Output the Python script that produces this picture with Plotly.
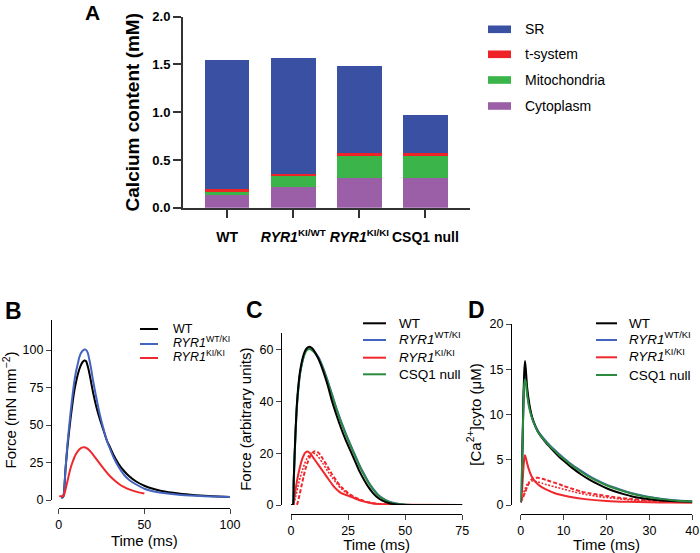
import plotly.graph_objects as go

W, H = 700, 553
def fx(p):
    return p / W
def fy(p):
    return 1 - p / H

FONT = "Arial, Liberation Sans, sans-serif"
BLACK = "#000000"
BLUE = "#4363bf"
RED = "#f0282d"
GREEN = "#2a8a3e"

# ---------------- Panel A data ----------------
categories = ["WT", "<i>RYR1</i><sup>KI/WT</sup>", "<i>RYR1</i><sup>KI/KI</sup>", "CSQ1 null"]
cytoplasm = [0.133, 0.213, 0.314, 0.314]
mitochondria = [0.042, 0.119, 0.231, 0.231]
t_system = [0.020, 0.024, 0.024, 0.024]
sr = [1.351, 1.215, 0.914, 0.405]
a_names = ["SR", "t-system", "Mitochondria", "Cytoplasm"]
a_colors = {"SR": "#3a51a3", "t-system": "#ee2327", "Mitochondria": "#3bb54a", "Cytoplasm": "#9b5fa8"}

# ---------------- Panel B data (force, mN mm-2) ----------------
b_wt_t = [1.5, 2.5, 3, 4, 5, 6, 7, 8, 9, 10, 11, 12, 13, 14, 15, 16, 17, 18, 19, 20, 22, 24, 26, 28, 30, 32, 35, 38, 41, 45, 50, 55, 60, 70, 80, 90, 100]
b_wt_f = [1.5, 2, 4, 21, 34, 45, 55, 64, 72, 78, 83, 87, 90, 92, 93, 92.5, 89, 84, 78, 72, 62, 54, 47, 40, 35, 30, 24, 19.5, 16, 12.5, 9.5, 7.5, 6, 4.3, 3.2, 2.5, 2]
b_wtki_t = [1.5, 2.5, 3, 4, 5, 6, 7, 8, 9, 10, 11, 12, 13, 14, 15, 16, 17, 18, 19, 20, 22, 24, 26, 28, 30, 32, 35, 38, 41, 45, 50, 55, 60, 70, 80, 90, 100]
b_wtki_f = [1.5, 2, 4, 21, 36, 48, 59, 69, 78, 85, 90, 95, 98, 99.5, 100.3, 100, 98, 93, 87, 80, 68, 57, 48, 40, 34, 28.5, 22, 17, 13.5, 10.5, 7.5, 5.8, 4.8, 3.5, 2.8, 2.3, 2]
b_kiki_t = [0.3, 2, 3, 4, 5, 6, 7, 8, 9, 10, 11, 12, 13, 14, 15, 16, 17, 18, 19, 20, 22, 24, 26, 28, 30, 33, 36, 40, 45, 50]
b_kiki_f = [2.5, 2.5, 3, 7, 12, 17, 21.5, 25, 28, 30.5, 32.3, 33.7, 34.6, 35.1, 35.2, 34.8, 34.1, 33, 31.7, 30.3, 27.3, 24.2, 21.2, 18.4, 15.8, 12.6, 10, 7.6, 5.6, 4.3]

# ---------------- Panel C data (force, arbitrary units) ----------------
c_t = [0, 0.8, 1.2, 1.6, 2, 2.5, 3, 3.5, 4, 5, 6, 7, 8, 9, 10, 12, 14, 16, 18, 20, 22, 24, 26, 28, 30, 32, 34, 36, 38, 40, 43, 46, 50, 60, 75]
c_wt = [0, 0, 10, 20, 29, 38, 44, 48.5, 52, 56.5, 59.3, 60.7, 61.2, 60.8, 59.8, 56.5, 52, 46.5, 40, 34.5, 29.5, 25, 21, 17, 13, 9.7, 6.8, 4.5, 2.8, 1.7, 0.7, 0.2, 0, 0, 0]
c_wtki = [0, 0, 9, 19, 28, 37, 43, 47.5, 51, 55.5, 58.6, 60.1, 60.5, 60.2, 59.5, 57.2, 53.2, 48.2, 42.7, 37.2, 32.2, 27.6, 23.4, 19.4, 15.4, 12, 8.8, 6.2, 4.1, 2.7, 1.3, 0.6, 0.1, 0, 0]
c_csq = [0, 0, 9, 19, 28, 37, 43, 47.5, 51, 55.5, 58.5, 59.9, 60.3, 60, 59.2, 56.8, 52.8, 47.8, 42.3, 36.8, 31.8, 27.2, 23, 19, 15, 11.6, 8.5, 5.9, 3.9, 2.5, 1.2, 0.5, 0.1, 0, 0]
c_kiki_solid_t = [0, 1, 1.5, 2, 3, 4, 5, 6, 7, 8, 9, 10, 12, 14, 16, 18, 20, 22, 25, 28, 32, 36, 40, 50, 75]
c_kiki_solid = [0, 0, 3, 6, 11, 15, 18, 20, 20.7, 20.3, 19.3, 18, 15.5, 13, 10.5, 8, 6, 4.6, 3.6, 2.5, 1.3, 0.6, 0.3, 0.05, 0]
c_kiki_dot_t = [0, 1, 2, 3, 4, 5, 6, 7, 8, 9, 10, 11, 12, 14, 16, 18, 20, 22, 25, 28, 32, 36, 40, 50, 75]
c_kiki_dot = [0, 0, 3, 7, 10.5, 13.5, 16, 18, 19.3, 20, 20, 19.5, 18.6, 16, 13.2, 10.6, 8.3, 6.3, 4.2, 2.7, 1.4, 0.7, 0.3, 0.05, 0]
c_kiki_dash_t = [0, 2.5, 3.5, 4.5, 5.5, 6.5, 7.5, 8.5, 9.5, 10.5, 11.5, 12.5, 14, 16, 18, 20, 22, 25, 28, 32, 36, 40, 50, 75]
c_kiki_dash = [0, 0, 3, 7, 11, 14.5, 17, 19, 20.3, 20.8, 20.6, 19.8, 17.8, 14.8, 11.8, 9.2, 7, 4.6, 2.9, 1.5, 0.7, 0.3, 0.05, 0]

# ---------------- Panel D data ([Ca2+]cyto, uM) ----------------
d_t = [0, 0.3, 0.6, 0.8, 1.0, 1.2, 1.5, 2, 2.5, 3, 4, 5, 6, 7, 8, 9, 10, 12, 14, 16, 18, 20, 22, 24, 26, 28, 30, 33, 36, 40]
d_wt = [0.3, 4, 11, 14.5, 15.9, 15, 13, 11.2, 10, 9.2, 8.1, 7.4, 6.8, 6.3, 5.8, 5.3, 4.9, 4.1, 3.4, 2.8, 2.3, 1.85, 1.5, 1.2, 0.95, 0.78, 0.64, 0.5, 0.42, 0.35]
d_wtki = [0.3, 4, 10.5, 13.5, 14.4, 14, 12.5, 10.9, 9.9, 9.2, 8.2, 7.55, 7.0, 6.5, 6.05, 5.6, 5.2, 4.45, 3.8, 3.2, 2.7, 2.25, 1.9, 1.58, 1.3, 1.07, 0.88, 0.67, 0.52, 0.4]
d_csq = [0.3, 4, 10.2, 13.2, 13.9, 13.6, 12.2, 10.7, 9.8, 9.1, 8.1, 7.45, 6.9, 6.4, 5.95, 5.5, 5.1, 4.35, 3.7, 3.1, 2.6, 2.18, 1.83, 1.52, 1.25, 1.03, 0.85, 0.65, 0.5, 0.39]
d_kiki_solid_t = [0, 0.3, 0.6, 0.8, 1.0, 1.2, 1.5, 2, 2.5, 3, 4, 5, 6, 8, 10, 12, 15, 20, 25, 30, 35, 40]
d_kiki_solid = [0.3, 1.5, 3.8, 5.0, 5.5, 5.2, 4.6, 3.8, 3.2, 2.8, 2.3, 1.95, 1.7, 1.3, 1.05, 0.85, 0.65, 0.45, 0.35, 0.3, 0.27, 0.25]
d_kiki_dash_t = [0, 0.5, 1, 1.5, 2, 2.5, 3, 3.5, 4, 5, 6, 7, 8, 9, 10, 12, 14, 16, 18, 20, 23, 26, 30, 35, 40]
d_kiki_dash = [0.3, 0.8, 1.4, 2.0, 2.5, 2.8, 2.95, 3.0, 3.0, 2.9, 2.75, 2.6, 2.45, 2.3, 2.1, 1.8, 1.5, 1.3, 1.15, 1.0, 0.8, 0.65, 0.5, 0.4, 0.35]
d_kiki_dot_t = [0, 0.5, 1, 1.5, 2, 2.5, 3, 4, 5, 6, 8, 10, 12, 14, 16, 18, 20, 23, 26, 30, 35, 40]
d_kiki_dot = [0.3, 1.0, 1.8, 2.3, 2.55, 2.65, 2.65, 2.55, 2.4, 2.25, 2.0, 1.75, 1.5, 1.28, 1.1, 0.95, 0.82, 0.68, 0.55, 0.45, 0.38, 0.33]

legend_labels = ["WT", "<i>RYR1</i><sup>WT/KI</sup>", "<i>RYR1</i><sup>KI/KI</sup>", "CSQ1 null"]
legend_colors = [BLACK, BLUE, RED, GREEN]

fig = go.Figure()

# Panel A stacked bars (bottom to top)
for name, vals in [("Cytoplasm", cytoplasm), ("Mitochondria", mitochondria), ("t-system", t_system), ("SR", sr)]:
    fig.add_trace(go.Bar(x=categories, y=vals, name=name, marker_color=a_colors[name],
                         marker_line_width=0, width=0.675, xaxis="x", yaxis="y", showlegend=False))

def line(x, y, color, ax, dash="solid", width=2):
    fig.add_trace(go.Scatter(x=x, y=y, mode="lines", line=dict(color=color, width=width, dash=dash, shape="spline", smoothing=0.5),
                             xaxis="x" + ax, yaxis="y" + ax, showlegend=False, cliponaxis=False))

# Panel B
line(b_wt_t, b_wt_f, BLACK, "2")
line(b_wtki_t, b_wtki_f, BLUE, "2")
line(b_kiki_t, b_kiki_f, RED, "2")
# Panel C
line(c_kiki_dash_t, c_kiki_dash, RED, "3", dash="4px,2px")
line(c_kiki_dot_t, c_kiki_dot, RED, "3", dash="2px,1.5px", width=1.6)
line(c_kiki_solid_t, c_kiki_solid, RED, "3")
line(c_t, c_wtki, BLUE, "3")
line(c_t, c_csq, GREEN, "3")
line(c_t, c_wt, BLACK, "3")
# Panel D
line(d_kiki_dash_t, d_kiki_dash, RED, "4", dash="4px,2px")
line(d_kiki_dot_t, d_kiki_dot, RED, "4", dash="2px,1.5px", width=1.6)
line(d_kiki_solid_t, d_kiki_solid, RED, "4")
line(d_t, d_wtki, BLUE, "4")
line(d_t, d_wt, BLACK, "4")
line(d_t, d_csq, GREEN, "4")

tf = dict(family=FONT, size=12.5, color="black")
ttl = dict(family=FONT, size=15, color="black")

def yax(y0p, y1p, r0, r1, posx, ticks, title, standoff):
    return dict(domain=[fy(y0p), fy(y1p)], range=[r0, r1], anchor="free", position=fx(posx),
                tickvals=ticks, ticks="outside", ticklen=5, tickwidth=1.3, showline=True, linecolor="black",
                linewidth=1.3, showgrid=False, zeroline=False, tickfont=tf, automargin=False,
                title=dict(text=title, font=ttl, standoff=standoff))

def xax(x0p, x1p, r0, r1, posy, ticks, standoff):
    return dict(domain=[fx(x0p), fx(x1p)], range=[r0, r1], anchor="free", position=fy(posy),
                tickvals=ticks, ticks="outside", ticklen=5, tickwidth=1.3, showline=True, linecolor="black",
                linewidth=1.3, showgrid=False, zeroline=False, tickfont=tf, automargin=False,
                title=dict(text="Time (ms)", font=ttl, standoff=standoff))

fig.update_layout(
    width=W, height=H, margin=dict(l=0, r=0, t=0, b=0),
    paper_bgcolor="white", plot_bgcolor="white", barmode="stack", bargap=0.3,
    font=dict(family=FONT, color="black"),
    xaxis=dict(domain=[fx(183), fx(470)], range=[-0.667, 3.674], anchor="y", type="category", tickangle=0,
               ticks="outside", ticklen=8, tickwidth=2, tickcolor="#333", showline=True, linecolor="#333", linewidth=2,
               showgrid=False, tickfont=dict(family=FONT, size=14, color="black", weight="bold"),
               ticklabelstandoff=7, automargin=False),
    yaxis=dict(domain=[fy(207.7), fy(16.7)], range=[0, 2], anchor="x", dtick=0.5, tickformat=".1f",
               ticks="outside", ticklen=8, tickwidth=2, tickcolor="#333", showline=True, linecolor="#333", linewidth=2,
               showgrid=False, zeroline=False, tickfont=dict(family=FONT, size=13, color="black", weight="bold"),
               automargin=False,
               title=dict(text="Calcium content (mM)", font=dict(family=FONT, size=19, color="black", weight="bold"), standoff=8)),
    xaxis2=xax(58.7, 230, 0, 100, 508, [0, 50, 100], 0),
    yaxis2=yax(500, 320, 0, 120, 51, [0, 25, 50, 75, 100], "Force (mN mm<sup>−2</sup>)", 4),
    xaxis3=xax(291, 462.3, 0, 75, 514, [0, 25, 50, 75], 0),
    yaxis3=yax(505, 333.3, 0, 66.4, 281, [0, 20, 40, 60], "Force (arbitrary units)", 3),
    xaxis4=xax(520.7, 692.3, 0, 40, 514, [0, 10, 20, 30, 40], 0),
    yaxis4=yax(505, 324, 0, 20, 511, [0, 5, 10, 15, 20], "[Ca<sup>2+</sup>]cyto (μM)", 3),
)

shapes = []
annots = []

# Panel letters
for letter, cx, cy, sz in [("A", 92, 13, 21), ("B", 13, 311, 23), ("C", 254, 310, 23), ("D", 477, 310, 23)]:
    annots.append(dict(text="<b>%s</b>" % letter, x=fx(cx), y=fy(cy), xref="paper", yref="paper",
                       xanchor="center", yanchor="middle", showarrow=False, font=dict(family=FONT, size=sz, color="black")))

# Panel A legend
for i, name in enumerate(a_names):
    cy = [29.3, 54.3, 80, 106][i]
    shapes.append(dict(type="rect", xref="paper", yref="paper", x0=fx(488), x1=fx(511), y0=fy(cy + 3.8), y1=fy(cy - 3.8),
                       fillcolor=a_colors[name], line=dict(width=0)))
    annots.append(dict(text=name, x=fx(523), y=fy(cy), xref="paper", yref="paper", xanchor="left", yanchor="middle",
                       showarrow=False, font=dict(family=FONT, size=14, color="black")))

# Panels B, C, D legends
def legend(n, lx0, lx1, tx, rows, size):
    for i in range(n):
        cy = rows[i]
        shapes.append(dict(type="line", xref="paper", yref="paper", x0=fx(lx0), x1=fx(lx1), y0=fy(cy), y1=fy(cy),
                           line=dict(color=legend_colors[i], width=2)))
        off = 2 if "sup" in legend_labels[i] else 0
        annots.append(dict(text=legend_labels[i], x=fx(tx), y=fy(cy - off), xref="paper", yref="paper", xanchor="left",
                           yanchor="middle", showarrow=False, font=dict(family=FONT, size=size, color="black")))

legend(3, 140, 158, 170.5, [329, 344, 358], 12.5)
legend(4, 363, 386, 396.5, [323.3, 340, 357.7, 374.3], 13.5)
legend(4, 596, 617, 626.5, [323.3, 340, 357.3, 375], 13.5)

fig.update_layout(shapes=shapes, annotations=annots)
fig.write_html("out.html", config={"displayModeBar": False},
               post_script="document.body.style.margin='0';document.body.style.padding='0';")
